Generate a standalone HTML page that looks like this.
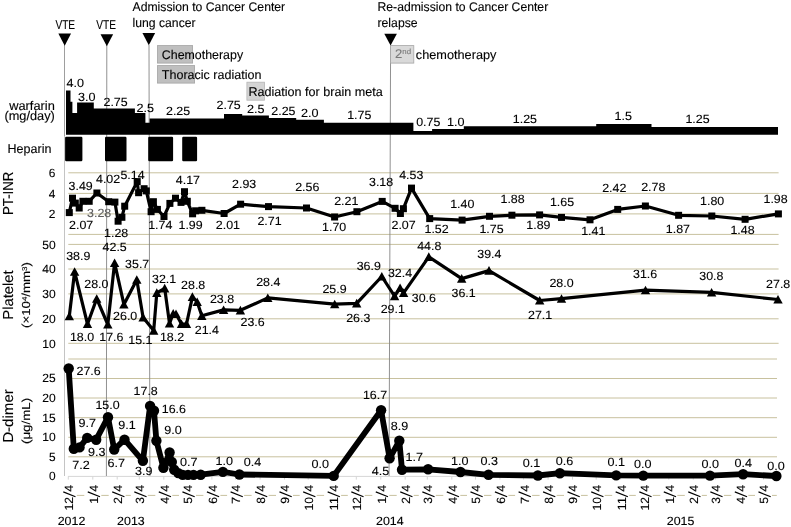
<!DOCTYPE html>
<html><head><meta charset="utf-8"><title>Clinical course</title>
<style>
html,body{margin:0;padding:0;background:#fff;}
body{width:791px;height:527px;overflow:hidden;}
svg{display:block;font-family:"Liberation Sans",sans-serif;will-change:transform;text-rendering:geometricPrecision;}
.g{stroke:#c8c19e;stroke-width:1;}
text{stroke:#000;stroke-width:0.12px;}
text[fill="#5e5e5e"]{stroke:#5e5e5e;}
text[fill="#7a7a7a"]{stroke:#7a7a7a;}
</style></head><body>
<svg width="791" height="527" viewBox="0 0 791 527">
<rect width="791" height="527" fill="#fff"/>
<line x1="68.3" y1="172.8" x2="778.6" y2="172.8" class="g"/>
<line x1="68.3" y1="193.4" x2="778.6" y2="193.4" class="g"/>
<line x1="68.3" y1="213.9" x2="778.6" y2="213.9" class="g"/>
<line x1="68.3" y1="234.4" x2="778.6" y2="234.4" class="g"/>
<line x1="68.3" y1="244.4" x2="778.6" y2="244.4" class="g"/>
<line x1="68.3" y1="269" x2="778.6" y2="269" class="g"/>
<line x1="68.3" y1="293.9" x2="778.6" y2="293.9" class="g"/>
<line x1="68.3" y1="318.8" x2="778.6" y2="318.8" class="g"/>
<line x1="68.3" y1="343.3" x2="778.6" y2="343.3" class="g"/>
<line x1="68.3" y1="359" x2="777" y2="359" class="g"/>
<line x1="68.3" y1="378.5" x2="777" y2="378.5" class="g"/>
<line x1="68.3" y1="398" x2="777" y2="398" class="g"/>
<line x1="68.3" y1="417.7" x2="777" y2="417.7" class="g"/>
<line x1="68.3" y1="437.3" x2="777" y2="437.3" class="g"/>
<line x1="68.3" y1="456.8" x2="777" y2="456.8" class="g"/>
<line x1="68" y1="476.4" x2="777" y2="476.4" stroke="#d6d6d6" stroke-width="1"/>
<line x1="68.3" y1="476.4" x2="68.3" y2="479.6" stroke="#d6d6d6" stroke-width="1"/>
<line x1="92.8" y1="476.4" x2="92.8" y2="479.6" stroke="#d6d6d6" stroke-width="1"/>
<line x1="117.2" y1="476.4" x2="117.2" y2="479.6" stroke="#d6d6d6" stroke-width="1"/>
<line x1="139.3" y1="476.4" x2="139.3" y2="479.6" stroke="#d6d6d6" stroke-width="1"/>
<line x1="163.8" y1="476.4" x2="163.8" y2="479.6" stroke="#d6d6d6" stroke-width="1"/>
<line x1="187.5" y1="476.4" x2="187.5" y2="479.6" stroke="#d6d6d6" stroke-width="1"/>
<line x1="211.9" y1="476.4" x2="211.9" y2="479.6" stroke="#d6d6d6" stroke-width="1"/>
<line x1="235.6" y1="476.4" x2="235.6" y2="479.6" stroke="#d6d6d6" stroke-width="1"/>
<line x1="260.1" y1="476.4" x2="260.1" y2="479.6" stroke="#d6d6d6" stroke-width="1"/>
<line x1="284.5" y1="476.4" x2="284.5" y2="479.6" stroke="#d6d6d6" stroke-width="1"/>
<line x1="308.2" y1="476.4" x2="308.2" y2="479.6" stroke="#d6d6d6" stroke-width="1"/>
<line x1="332.6" y1="476.4" x2="332.6" y2="479.6" stroke="#d6d6d6" stroke-width="1"/>
<line x1="356.3" y1="476.4" x2="356.3" y2="479.6" stroke="#d6d6d6" stroke-width="1"/>
<line x1="380.8" y1="476.4" x2="380.8" y2="479.6" stroke="#d6d6d6" stroke-width="1"/>
<line x1="405.2" y1="476.4" x2="405.2" y2="479.6" stroke="#d6d6d6" stroke-width="1"/>
<line x1="427.3" y1="476.4" x2="427.3" y2="479.6" stroke="#d6d6d6" stroke-width="1"/>
<line x1="451.8" y1="476.4" x2="451.8" y2="479.6" stroke="#d6d6d6" stroke-width="1"/>
<line x1="475.5" y1="476.4" x2="475.5" y2="479.6" stroke="#d6d6d6" stroke-width="1"/>
<line x1="499.9" y1="476.4" x2="499.9" y2="479.6" stroke="#d6d6d6" stroke-width="1"/>
<line x1="523.6" y1="476.4" x2="523.6" y2="479.6" stroke="#d6d6d6" stroke-width="1"/>
<line x1="548.1" y1="476.4" x2="548.1" y2="479.6" stroke="#d6d6d6" stroke-width="1"/>
<line x1="572.5" y1="476.4" x2="572.5" y2="479.6" stroke="#d6d6d6" stroke-width="1"/>
<line x1="596.2" y1="476.4" x2="596.2" y2="479.6" stroke="#d6d6d6" stroke-width="1"/>
<line x1="620.7" y1="476.4" x2="620.7" y2="479.6" stroke="#d6d6d6" stroke-width="1"/>
<line x1="644.3" y1="476.4" x2="644.3" y2="479.6" stroke="#d6d6d6" stroke-width="1"/>
<line x1="668.8" y1="476.4" x2="668.8" y2="479.6" stroke="#d6d6d6" stroke-width="1"/>
<line x1="693.3" y1="476.4" x2="693.3" y2="479.6" stroke="#d6d6d6" stroke-width="1"/>
<line x1="715.4" y1="476.4" x2="715.4" y2="479.6" stroke="#d6d6d6" stroke-width="1"/>
<line x1="739.8" y1="476.4" x2="739.8" y2="479.6" stroke="#d6d6d6" stroke-width="1"/>
<line x1="763.5" y1="476.4" x2="763.5" y2="479.6" stroke="#d6d6d6" stroke-width="1"/>
<line x1="76.8" y1="495.4" x2="84.3" y2="495.4" stroke="#c8c19e" stroke-width="1"/>
<line x1="101.3" y1="495.4" x2="108.7" y2="495.4" stroke="#c8c19e" stroke-width="1"/>
<line x1="125.7" y1="495.4" x2="130.8" y2="495.4" stroke="#c8c19e" stroke-width="1"/>
<line x1="147.8" y1="495.4" x2="155.3" y2="495.4" stroke="#c8c19e" stroke-width="1"/>
<line x1="172.3" y1="495.4" x2="179.0" y2="495.4" stroke="#c8c19e" stroke-width="1"/>
<line x1="196.0" y1="495.4" x2="203.4" y2="495.4" stroke="#c8c19e" stroke-width="1"/>
<line x1="220.4" y1="495.4" x2="227.1" y2="495.4" stroke="#c8c19e" stroke-width="1"/>
<line x1="244.1" y1="495.4" x2="251.6" y2="495.4" stroke="#c8c19e" stroke-width="1"/>
<line x1="268.6" y1="495.4" x2="276.0" y2="495.4" stroke="#c8c19e" stroke-width="1"/>
<line x1="293.0" y1="495.4" x2="299.7" y2="495.4" stroke="#c8c19e" stroke-width="1"/>
<line x1="316.7" y1="495.4" x2="324.1" y2="495.4" stroke="#c8c19e" stroke-width="1"/>
<line x1="341.1" y1="495.4" x2="347.8" y2="495.4" stroke="#c8c19e" stroke-width="1"/>
<line x1="364.8" y1="495.4" x2="372.3" y2="495.4" stroke="#c8c19e" stroke-width="1"/>
<line x1="389.3" y1="495.4" x2="396.7" y2="495.4" stroke="#c8c19e" stroke-width="1"/>
<line x1="413.7" y1="495.4" x2="418.8" y2="495.4" stroke="#c8c19e" stroke-width="1"/>
<line x1="435.8" y1="495.4" x2="443.3" y2="495.4" stroke="#c8c19e" stroke-width="1"/>
<line x1="460.3" y1="495.4" x2="467.0" y2="495.4" stroke="#c8c19e" stroke-width="1"/>
<line x1="484.0" y1="495.4" x2="491.4" y2="495.4" stroke="#c8c19e" stroke-width="1"/>
<line x1="508.4" y1="495.4" x2="515.1" y2="495.4" stroke="#c8c19e" stroke-width="1"/>
<line x1="532.1" y1="495.4" x2="539.6" y2="495.4" stroke="#c8c19e" stroke-width="1"/>
<line x1="556.6" y1="495.4" x2="564.0" y2="495.4" stroke="#c8c19e" stroke-width="1"/>
<line x1="581.0" y1="495.4" x2="587.7" y2="495.4" stroke="#c8c19e" stroke-width="1"/>
<line x1="604.7" y1="495.4" x2="612.2" y2="495.4" stroke="#c8c19e" stroke-width="1"/>
<line x1="629.2" y1="495.4" x2="635.8" y2="495.4" stroke="#c8c19e" stroke-width="1"/>
<line x1="652.8" y1="495.4" x2="660.3" y2="495.4" stroke="#c8c19e" stroke-width="1"/>
<line x1="677.3" y1="495.4" x2="684.8" y2="495.4" stroke="#c8c19e" stroke-width="1"/>
<line x1="701.8" y1="495.4" x2="706.9" y2="495.4" stroke="#c8c19e" stroke-width="1"/>
<line x1="723.9" y1="495.4" x2="731.3" y2="495.4" stroke="#c8c19e" stroke-width="1"/>
<line x1="748.3" y1="495.4" x2="755.0" y2="495.4" stroke="#c8c19e" stroke-width="1"/>
<line x1="772.0" y1="495.4" x2="776.8" y2="495.4" stroke="#c8c19e" stroke-width="1"/>
<g transform="translate(73.20,510.43) rotate(-90)" font-size="11.9"><text x="0" y="0" textLength="13.52" lengthAdjust="spacingAndGlyphs">12</text><line x1="13.62" y1="2.3" x2="18.57" y2="-9.9" stroke="#000" stroke-width="1.15"/><text x="18.67" y="0" textLength="6.76" lengthAdjust="spacingAndGlyphs">4</text></g>
<g transform="translate(97.66,503.67) rotate(-90)" font-size="11.9"><text x="0" y="0" textLength="6.76" lengthAdjust="spacingAndGlyphs">1</text><line x1="6.86" y1="2.3" x2="11.81" y2="-9.9" stroke="#000" stroke-width="1.15"/><text x="11.91" y="0" textLength="6.76" lengthAdjust="spacingAndGlyphs">4</text></g>
<g transform="translate(122.12,503.67) rotate(-90)" font-size="11.9"><text x="0" y="0" textLength="6.76" lengthAdjust="spacingAndGlyphs">2</text><line x1="6.86" y1="2.3" x2="11.81" y2="-9.9" stroke="#000" stroke-width="1.15"/><text x="11.91" y="0" textLength="6.76" lengthAdjust="spacingAndGlyphs">4</text></g>
<g transform="translate(144.22,503.67) rotate(-90)" font-size="11.9"><text x="0" y="0" textLength="6.76" lengthAdjust="spacingAndGlyphs">3</text><line x1="6.86" y1="2.3" x2="11.81" y2="-9.9" stroke="#000" stroke-width="1.15"/><text x="11.91" y="0" textLength="6.76" lengthAdjust="spacingAndGlyphs">4</text></g>
<g transform="translate(168.68,503.67) rotate(-90)" font-size="11.9"><text x="0" y="0" textLength="6.76" lengthAdjust="spacingAndGlyphs">4</text><line x1="6.86" y1="2.3" x2="11.81" y2="-9.9" stroke="#000" stroke-width="1.15"/><text x="11.91" y="0" textLength="6.76" lengthAdjust="spacingAndGlyphs">4</text></g>
<g transform="translate(192.35,503.67) rotate(-90)" font-size="11.9"><text x="0" y="0" textLength="6.76" lengthAdjust="spacingAndGlyphs">5</text><line x1="6.86" y1="2.3" x2="11.81" y2="-9.9" stroke="#000" stroke-width="1.15"/><text x="11.91" y="0" textLength="6.76" lengthAdjust="spacingAndGlyphs">4</text></g>
<g transform="translate(216.82,503.67) rotate(-90)" font-size="11.9"><text x="0" y="0" textLength="6.76" lengthAdjust="spacingAndGlyphs">6</text><line x1="6.86" y1="2.3" x2="11.81" y2="-9.9" stroke="#000" stroke-width="1.15"/><text x="11.91" y="0" textLength="6.76" lengthAdjust="spacingAndGlyphs">4</text></g>
<g transform="translate(240.49,503.67) rotate(-90)" font-size="11.9"><text x="0" y="0" textLength="6.76" lengthAdjust="spacingAndGlyphs">7</text><line x1="6.86" y1="2.3" x2="11.81" y2="-9.9" stroke="#000" stroke-width="1.15"/><text x="11.91" y="0" textLength="6.76" lengthAdjust="spacingAndGlyphs">4</text></g>
<g transform="translate(264.95,503.67) rotate(-90)" font-size="11.9"><text x="0" y="0" textLength="6.76" lengthAdjust="spacingAndGlyphs">8</text><line x1="6.86" y1="2.3" x2="11.81" y2="-9.9" stroke="#000" stroke-width="1.15"/><text x="11.91" y="0" textLength="6.76" lengthAdjust="spacingAndGlyphs">4</text></g>
<g transform="translate(289.41,503.67) rotate(-90)" font-size="11.9"><text x="0" y="0" textLength="6.76" lengthAdjust="spacingAndGlyphs">9</text><line x1="6.86" y1="2.3" x2="11.81" y2="-9.9" stroke="#000" stroke-width="1.15"/><text x="11.91" y="0" textLength="6.76" lengthAdjust="spacingAndGlyphs">4</text></g>
<g transform="translate(313.09,510.43) rotate(-90)" font-size="11.9"><text x="0" y="0" textLength="13.52" lengthAdjust="spacingAndGlyphs">10</text><line x1="13.62" y1="2.3" x2="18.57" y2="-9.9" stroke="#000" stroke-width="1.15"/><text x="18.67" y="0" textLength="6.76" lengthAdjust="spacingAndGlyphs">4</text></g>
<g transform="translate(337.55,510.43) rotate(-90)" font-size="11.9"><text x="0" y="0" textLength="13.52" lengthAdjust="spacingAndGlyphs">11</text><line x1="13.62" y1="2.3" x2="18.57" y2="-9.9" stroke="#000" stroke-width="1.15"/><text x="18.67" y="0" textLength="6.76" lengthAdjust="spacingAndGlyphs">4</text></g>
<g transform="translate(361.22,510.43) rotate(-90)" font-size="11.9"><text x="0" y="0" textLength="13.52" lengthAdjust="spacingAndGlyphs">12</text><line x1="13.62" y1="2.3" x2="18.57" y2="-9.9" stroke="#000" stroke-width="1.15"/><text x="18.67" y="0" textLength="6.76" lengthAdjust="spacingAndGlyphs">4</text></g>
<g transform="translate(385.68,503.67) rotate(-90)" font-size="11.9"><text x="0" y="0" textLength="6.76" lengthAdjust="spacingAndGlyphs">1</text><line x1="6.86" y1="2.3" x2="11.81" y2="-9.9" stroke="#000" stroke-width="1.15"/><text x="11.91" y="0" textLength="6.76" lengthAdjust="spacingAndGlyphs">4</text></g>
<g transform="translate(410.15,503.67) rotate(-90)" font-size="11.9"><text x="0" y="0" textLength="6.76" lengthAdjust="spacingAndGlyphs">2</text><line x1="6.86" y1="2.3" x2="11.81" y2="-9.9" stroke="#000" stroke-width="1.15"/><text x="11.91" y="0" textLength="6.76" lengthAdjust="spacingAndGlyphs">4</text></g>
<g transform="translate(432.24,503.67) rotate(-90)" font-size="11.9"><text x="0" y="0" textLength="6.76" lengthAdjust="spacingAndGlyphs">3</text><line x1="6.86" y1="2.3" x2="11.81" y2="-9.9" stroke="#000" stroke-width="1.15"/><text x="11.91" y="0" textLength="6.76" lengthAdjust="spacingAndGlyphs">4</text></g>
<g transform="translate(456.70,503.67) rotate(-90)" font-size="11.9"><text x="0" y="0" textLength="6.76" lengthAdjust="spacingAndGlyphs">4</text><line x1="6.86" y1="2.3" x2="11.81" y2="-9.9" stroke="#000" stroke-width="1.15"/><text x="11.91" y="0" textLength="6.76" lengthAdjust="spacingAndGlyphs">4</text></g>
<g transform="translate(480.38,503.67) rotate(-90)" font-size="11.9"><text x="0" y="0" textLength="6.76" lengthAdjust="spacingAndGlyphs">5</text><line x1="6.86" y1="2.3" x2="11.81" y2="-9.9" stroke="#000" stroke-width="1.15"/><text x="11.91" y="0" textLength="6.76" lengthAdjust="spacingAndGlyphs">4</text></g>
<g transform="translate(504.84,503.67) rotate(-90)" font-size="11.9"><text x="0" y="0" textLength="6.76" lengthAdjust="spacingAndGlyphs">6</text><line x1="6.86" y1="2.3" x2="11.81" y2="-9.9" stroke="#000" stroke-width="1.15"/><text x="11.91" y="0" textLength="6.76" lengthAdjust="spacingAndGlyphs">4</text></g>
<g transform="translate(528.51,503.67) rotate(-90)" font-size="11.9"><text x="0" y="0" textLength="6.76" lengthAdjust="spacingAndGlyphs">7</text><line x1="6.86" y1="2.3" x2="11.81" y2="-9.9" stroke="#000" stroke-width="1.15"/><text x="11.91" y="0" textLength="6.76" lengthAdjust="spacingAndGlyphs">4</text></g>
<g transform="translate(552.97,503.67) rotate(-90)" font-size="11.9"><text x="0" y="0" textLength="6.76" lengthAdjust="spacingAndGlyphs">8</text><line x1="6.86" y1="2.3" x2="11.81" y2="-9.9" stroke="#000" stroke-width="1.15"/><text x="11.91" y="0" textLength="6.76" lengthAdjust="spacingAndGlyphs">4</text></g>
<g transform="translate(577.43,503.67) rotate(-90)" font-size="11.9"><text x="0" y="0" textLength="6.76" lengthAdjust="spacingAndGlyphs">9</text><line x1="6.86" y1="2.3" x2="11.81" y2="-9.9" stroke="#000" stroke-width="1.15"/><text x="11.91" y="0" textLength="6.76" lengthAdjust="spacingAndGlyphs">4</text></g>
<g transform="translate(601.11,510.43) rotate(-90)" font-size="11.9"><text x="0" y="0" textLength="13.52" lengthAdjust="spacingAndGlyphs">10</text><line x1="13.62" y1="2.3" x2="18.57" y2="-9.9" stroke="#000" stroke-width="1.15"/><text x="18.67" y="0" textLength="6.76" lengthAdjust="spacingAndGlyphs">4</text></g>
<g transform="translate(625.57,510.43) rotate(-90)" font-size="11.9"><text x="0" y="0" textLength="13.52" lengthAdjust="spacingAndGlyphs">11</text><line x1="13.62" y1="2.3" x2="18.57" y2="-9.9" stroke="#000" stroke-width="1.15"/><text x="18.67" y="0" textLength="6.76" lengthAdjust="spacingAndGlyphs">4</text></g>
<g transform="translate(649.24,510.43) rotate(-90)" font-size="11.9"><text x="0" y="0" textLength="13.52" lengthAdjust="spacingAndGlyphs">12</text><line x1="13.62" y1="2.3" x2="18.57" y2="-9.9" stroke="#000" stroke-width="1.15"/><text x="18.67" y="0" textLength="6.76" lengthAdjust="spacingAndGlyphs">4</text></g>
<g transform="translate(673.71,503.67) rotate(-90)" font-size="11.9"><text x="0" y="0" textLength="6.76" lengthAdjust="spacingAndGlyphs">1</text><line x1="6.86" y1="2.3" x2="11.81" y2="-9.9" stroke="#000" stroke-width="1.15"/><text x="11.91" y="0" textLength="6.76" lengthAdjust="spacingAndGlyphs">4</text></g>
<g transform="translate(698.17,503.67) rotate(-90)" font-size="11.9"><text x="0" y="0" textLength="6.76" lengthAdjust="spacingAndGlyphs">2</text><line x1="6.86" y1="2.3" x2="11.81" y2="-9.9" stroke="#000" stroke-width="1.15"/><text x="11.91" y="0" textLength="6.76" lengthAdjust="spacingAndGlyphs">4</text></g>
<g transform="translate(720.26,503.67) rotate(-90)" font-size="11.9"><text x="0" y="0" textLength="6.76" lengthAdjust="spacingAndGlyphs">3</text><line x1="6.86" y1="2.3" x2="11.81" y2="-9.9" stroke="#000" stroke-width="1.15"/><text x="11.91" y="0" textLength="6.76" lengthAdjust="spacingAndGlyphs">4</text></g>
<g transform="translate(744.72,503.67) rotate(-90)" font-size="11.9"><text x="0" y="0" textLength="6.76" lengthAdjust="spacingAndGlyphs">4</text><line x1="6.86" y1="2.3" x2="11.81" y2="-9.9" stroke="#000" stroke-width="1.15"/><text x="11.91" y="0" textLength="6.76" lengthAdjust="spacingAndGlyphs">4</text></g>
<g transform="translate(768.40,503.67) rotate(-90)" font-size="11.9"><text x="0" y="0" textLength="6.76" lengthAdjust="spacingAndGlyphs">5</text><line x1="6.86" y1="2.3" x2="11.81" y2="-9.9" stroke="#000" stroke-width="1.15"/><text x="11.91" y="0" textLength="6.76" lengthAdjust="spacingAndGlyphs">4</text></g>
<text x="57.7" y="525.3" font-size="11.9" text-anchor="start" fill="#000" textLength="27.6" lengthAdjust="spacingAndGlyphs">2012</text>
<text x="117.1" y="525.3" font-size="11.9" text-anchor="start" fill="#000" textLength="27.6" lengthAdjust="spacingAndGlyphs">2013</text>
<text x="376.0" y="525.3" font-size="11.9" text-anchor="start" fill="#000" textLength="27.6" lengthAdjust="spacingAndGlyphs">2014</text>
<text x="666.8" y="525.3" font-size="11.9" text-anchor="start" fill="#000" textLength="27.6" lengthAdjust="spacingAndGlyphs">2015</text>
<line x1="106.8" y1="45" x2="106.4" y2="476" stroke="#858585" stroke-width="0.9"/>
<line x1="149.0" y1="45" x2="149.9" y2="476" stroke="#858585" stroke-width="0.9"/>
<line x1="390.6" y1="45" x2="389.05" y2="476" stroke="#858585" stroke-width="0.9"/>
<line x1="64.5" y1="44" x2="64.5" y2="136" stroke="#858585" stroke-width="0.8"/>
<line x1="64.5" y1="136" x2="64.5" y2="476" stroke="#bdbdbd" stroke-width="0.9"/>
<path d="M66,134.7 L66,90.4 L70.5,90.4 L70.5,101.7 L72.4,101.7 L72.4,112.9 L77.1,112.9 L77.1,102.5 L93.8,102.5 L93.8,108.4 L134.9,108.4 L134.9,112.9 L145.4,112.9 L145.4,122.8 L149.6,122.8 L149.6,118.4 L224,118.4 L224,114.1 L242.2,114.1 L242.2,115.6 L268.9,115.6 L268.9,118.1 L296.2,118.1 L296.2,119.8 L323.9,119.8 L323.9,122.8 L413.4,122.8 L413.4,131 L432.1,131 L432.1,129.1 L463.8,129.1 L463.8,126.3 L596.2,126.3 L596.2,124.1 L651.5,124.1 L651.5,127 L778,127 L778,134.7 Z" fill="#000"/>
<rect x="65.1" y="136.8" width="17.3" height="24.5" rx="1.2" fill="#000"/>
<rect x="105" y="136.8" width="21.5" height="24.5" rx="1.2" fill="#000"/>
<rect x="148.2" y="136.8" width="24.9" height="24.5" rx="1.2" fill="#000"/>
<rect x="182.2" y="136.8" width="14.9" height="24.5" rx="1.2" fill="#000"/>
<text x="66.6" y="87" font-size="11.9" text-anchor="start" fill="#000" textLength="17.5" lengthAdjust="spacingAndGlyphs">4.0</text>
<text x="78.0" y="100.9" font-size="11.9" text-anchor="start" fill="#000" textLength="17.5" lengthAdjust="spacingAndGlyphs">3.0</text>
<text x="103.5" y="105.8" font-size="11.9" text-anchor="start" fill="#000" textLength="24.2" lengthAdjust="spacingAndGlyphs">2.75</text>
<text x="136.6" y="112.2" font-size="11.9" text-anchor="start" fill="#000" textLength="17.5" lengthAdjust="spacingAndGlyphs">2.5</text>
<text x="166.0" y="114.7" font-size="11.9" text-anchor="start" fill="#000" textLength="24.2" lengthAdjust="spacingAndGlyphs">2.25</text>
<text x="216.6" y="109.3" font-size="11.9" text-anchor="start" fill="#000" textLength="24.2" lengthAdjust="spacingAndGlyphs">2.75</text>
<text x="246.9" y="113.3" font-size="11.9" text-anchor="start" fill="#000" textLength="17.5" lengthAdjust="spacingAndGlyphs">2.5</text>
<text x="271.3" y="114.6" font-size="11.9" text-anchor="start" fill="#000" textLength="24.2" lengthAdjust="spacingAndGlyphs">2.25</text>
<text x="301.0" y="117" font-size="11.9" text-anchor="start" fill="#000" textLength="17.5" lengthAdjust="spacingAndGlyphs">2.0</text>
<text x="347.20000000000005" y="119.2" font-size="11.9" text-anchor="start" fill="#000" textLength="24.2" lengthAdjust="spacingAndGlyphs">1.75</text>
<text x="416.20000000000005" y="125.7" font-size="11.9" text-anchor="start" fill="#000" textLength="24.2" lengthAdjust="spacingAndGlyphs">0.75</text>
<text x="446.90000000000003" y="125.7" font-size="11.9" text-anchor="start" fill="#000" textLength="17.5" lengthAdjust="spacingAndGlyphs">1.0</text>
<text x="512.8000000000001" y="122.9" font-size="11.9" text-anchor="start" fill="#000" textLength="24.2" lengthAdjust="spacingAndGlyphs">1.25</text>
<text x="614.6" y="120.2" font-size="11.9" text-anchor="start" fill="#000" textLength="17.5" lengthAdjust="spacingAndGlyphs">1.5</text>
<text x="685.4" y="122.6" font-size="11.9" text-anchor="start" fill="#000" textLength="24.2" lengthAdjust="spacingAndGlyphs">1.25</text>
<path d="M58.35,33.4 L71.05,33.4 L64.7,45.7 Z" fill="#000"/>
<path d="M100.55,34.2 L113.14999999999999,34.2 L106.85,46.3 Z" fill="#000"/>
<path d="M142.45000000000002,33.0 L155.15,33.0 L148.8,45.3 Z" fill="#000"/>
<path d="M384.3,33.8 L396.90000000000003,33.8 L390.6,45.6 Z" fill="#000"/>
<text x="55.4" y="28.6" font-size="12.6" text-anchor="start" fill="#000" textLength="19.7" lengthAdjust="spacingAndGlyphs">VTE</text>
<text x="96.3" y="28.6" font-size="12.6" text-anchor="start" fill="#000" textLength="19.7" lengthAdjust="spacingAndGlyphs">VTE</text>
<text x="132.5" y="11.0" font-size="12.6" text-anchor="start" fill="#000" textLength="152.7" lengthAdjust="spacingAndGlyphs">Admission to Cancer Center</text>
<text x="132.5" y="27.0" font-size="12.6" text-anchor="start" fill="#000" textLength="63.1" lengthAdjust="spacingAndGlyphs">lung cancer</text>
<text x="377.5" y="11.0" font-size="12.6" text-anchor="start" fill="#000" textLength="170.7" lengthAdjust="spacingAndGlyphs">Re-admission to Cancer Center</text>
<text x="377.5" y="27.0" font-size="12.6" text-anchor="start" fill="#000" textLength="40.1" lengthAdjust="spacingAndGlyphs">relapse</text>
<rect x="157.5" y="45.6" width="35.1" height="17.5" fill="#bfbfbf" stroke="#a3a3a3" stroke-width="0.8"/>
<rect x="157.5" y="65.6" width="37.1" height="17.5" fill="#bfbfbf" stroke="#a3a3a3" stroke-width="0.8"/>
<rect x="246.9" y="82.2" width="17.6" height="18" fill="#d4d4d4" stroke="#b5b5b5" stroke-width="0.8"/>
<rect x="390.6" y="45.6" width="23.2" height="17.5" fill="#d9d9d9" stroke="#a6a6a6" stroke-width="0.8"/>
<text x="161.8" y="58.7" font-size="12.6" text-anchor="start" fill="#000" textLength="81.3" lengthAdjust="spacingAndGlyphs">Chemotherapy</text>
<text x="161.8" y="78.5" font-size="12.6" text-anchor="start" fill="#000" textLength="99.6" lengthAdjust="spacingAndGlyphs">Thoracic radiation</text>
<text x="248.4" y="95.9" font-size="12.6" text-anchor="start" fill="#000" textLength="134.3" lengthAdjust="spacingAndGlyphs">Radiation for brain meta</text>
<text x="395" y="58.3" font-size="12.6" fill="#7a7a7a" textLength="16" lengthAdjust="spacingAndGlyphs">2<tspan font-size="7.5" dy="-4">nd</tspan></text>
<text x="415.8" y="58.7" font-size="12.6" text-anchor="start" fill="#000" textLength="80.6" lengthAdjust="spacingAndGlyphs">chemotherapy</text>
<text x="54.8" y="109.7" font-size="12.6" text-anchor="end" fill="#000" textLength="45.6" lengthAdjust="spacingAndGlyphs">warfarin</text>
<text x="54.8" y="120.4" font-size="12.6" text-anchor="end" fill="#000" textLength="50.3" lengthAdjust="spacingAndGlyphs">(mg/day)</text>
<text x="7.6" y="153.2" font-size="12.6" text-anchor="start" fill="#000" textLength="43.8" lengthAdjust="spacingAndGlyphs">Heparin</text>
<text transform="translate(13,193.3) rotate(-90)" font-size="14.5" text-anchor="middle" fill="#000" textLength="43.5" lengthAdjust="spacingAndGlyphs">PT-INR</text>
<text transform="translate(12.5,295) rotate(-90)" font-size="14.5" text-anchor="middle" fill="#000" textLength="49.5" lengthAdjust="spacingAndGlyphs">Platelet</text>
<text transform="translate(30.3,295) rotate(-90)" font-size="11.6" text-anchor="middle" textLength="66" lengthAdjust="spacingAndGlyphs">(×10<tspan font-size="7" dy="-3.5">4</tspan><tspan dy="3.5">/mm</tspan><tspan font-size="7" dy="-3.5">3</tspan><tspan dy="3.5">)</tspan></text>
<text transform="translate(12.6,416) rotate(-90)" font-size="14.5" text-anchor="middle" fill="#000" textLength="53.6" lengthAdjust="spacingAndGlyphs">D-dimer</text>
<text transform="translate(30,420.9) rotate(-90)" font-size="11.6" text-anchor="middle" fill="#000" textLength="46.3" lengthAdjust="spacingAndGlyphs">(μg/mL)</text>
<text x="55.4" y="176.9" font-size="11.9" text-anchor="end" fill="#000">6</text>
<text x="55.4" y="197.5" font-size="11.9" text-anchor="end" fill="#000">4</text>
<text x="55.4" y="218.0" font-size="11.9" text-anchor="end" fill="#000">2</text>
<text x="55.6" y="248.70000000000002" font-size="11.9" text-anchor="end" fill="#000" textLength="13.4" lengthAdjust="spacingAndGlyphs">50</text>
<text x="55.6" y="273.2" font-size="11.9" text-anchor="end" fill="#000" textLength="13.4" lengthAdjust="spacingAndGlyphs">40</text>
<text x="55.6" y="298.2" font-size="11.9" text-anchor="end" fill="#000" textLength="13.4" lengthAdjust="spacingAndGlyphs">30</text>
<text x="55.6" y="322.9" font-size="11.9" text-anchor="end" fill="#000" textLength="13.4" lengthAdjust="spacingAndGlyphs">20</text>
<text x="55.6" y="347.5" font-size="11.9" text-anchor="end" fill="#000" textLength="13.4" lengthAdjust="spacingAndGlyphs">10</text>
<text x="55.6" y="382.3" font-size="11.9" text-anchor="end" fill="#000" textLength="13.4" lengthAdjust="spacingAndGlyphs">25</text>
<text x="55.6" y="402.0" font-size="11.9" text-anchor="end" fill="#000" textLength="13.4" lengthAdjust="spacingAndGlyphs">20</text>
<text x="55.6" y="421.8" font-size="11.9" text-anchor="end" fill="#000" textLength="13.4" lengthAdjust="spacingAndGlyphs">15</text>
<text x="55.6" y="441.3" font-size="11.9" text-anchor="end" fill="#000" textLength="13.4" lengthAdjust="spacingAndGlyphs">10</text>
<text x="55.6" y="460.70000000000005" font-size="11.9" text-anchor="end" fill="#000">5</text>
<text x="55.6" y="479.90000000000003" font-size="11.9" text-anchor="end" fill="#000">0</text>
<polyline fill="none" stroke="#000" stroke-width="3.2" stroke-linejoin="round" points="69.3,212.6 72.5,198.2 75.3,203.1 79.2,208 82.9,201.3 89.2,201.3 96.9,193 108.7,201.7 114.9,202.1 118.1,221.2 121.9,217.3 124.7,206.2 137.2,181.6 138.6,192.7 144.1,188.7 146.3,190.9 151.1,211.7 153.4,201.7 157.4,209.4 164,216.5 169.9,203.4 175.5,198.2 181,202.4 184.5,191.7 187.3,201.3 192.6,213.8 195.6,210.8 201.9,210.3 224.1,213.5 240.6,204.2 268.5,206.6 306.5,208 334.6,217 356.9,211.7 382.2,201.4 395.1,208.3 400.4,213.5 403.4,208.7 411.5,188.1 429.7,218.6 462.1,220.1 489.5,216.3 511.9,215.2 539.6,214.9 561.5,217.4 590,219.8 617.7,209.4 645.4,206 678.6,215.3 711.8,216 745.1,219.3 778.4,213.9"/>
<rect x="65.8" y="209.1" width="7" height="7" fill="#000"/>
<rect x="69.0" y="194.7" width="7" height="7" fill="#000"/>
<rect x="71.8" y="199.6" width="7" height="7" fill="#000"/>
<rect x="75.7" y="204.5" width="7" height="7" fill="#000"/>
<rect x="79.4" y="197.8" width="7" height="7" fill="#000"/>
<rect x="85.7" y="197.8" width="7" height="7" fill="#000"/>
<rect x="93.4" y="189.5" width="7" height="7" fill="#000"/>
<rect x="105.2" y="198.2" width="7" height="7" fill="#000"/>
<rect x="111.4" y="198.6" width="7" height="7" fill="#000"/>
<rect x="114.6" y="217.7" width="7" height="7" fill="#000"/>
<rect x="118.4" y="213.8" width="7" height="7" fill="#000"/>
<rect x="121.2" y="202.7" width="7" height="7" fill="#000"/>
<rect x="133.7" y="178.1" width="7" height="7" fill="#000"/>
<rect x="135.1" y="189.2" width="7" height="7" fill="#000"/>
<rect x="140.6" y="185.2" width="7" height="7" fill="#000"/>
<rect x="142.8" y="187.4" width="7" height="7" fill="#000"/>
<rect x="147.6" y="208.2" width="7" height="7" fill="#000"/>
<rect x="149.9" y="198.2" width="7" height="7" fill="#000"/>
<rect x="153.9" y="205.9" width="7" height="7" fill="#000"/>
<rect x="160.5" y="213.0" width="7" height="7" fill="#000"/>
<rect x="166.4" y="199.9" width="7" height="7" fill="#000"/>
<rect x="172.0" y="194.7" width="7" height="7" fill="#000"/>
<rect x="177.5" y="198.9" width="7" height="7" fill="#000"/>
<rect x="181.0" y="188.2" width="7" height="7" fill="#000"/>
<rect x="183.8" y="197.8" width="7" height="7" fill="#000"/>
<rect x="189.1" y="210.3" width="7" height="7" fill="#000"/>
<rect x="192.1" y="207.3" width="7" height="7" fill="#000"/>
<rect x="198.4" y="206.8" width="7" height="7" fill="#000"/>
<rect x="220.6" y="210.0" width="7" height="7" fill="#000"/>
<rect x="237.1" y="200.7" width="7" height="7" fill="#000"/>
<rect x="265.0" y="203.1" width="7" height="7" fill="#000"/>
<rect x="303.0" y="204.5" width="7" height="7" fill="#000"/>
<rect x="331.1" y="213.5" width="7" height="7" fill="#000"/>
<rect x="353.4" y="208.2" width="7" height="7" fill="#000"/>
<rect x="378.7" y="197.9" width="7" height="7" fill="#000"/>
<rect x="391.6" y="204.8" width="7" height="7" fill="#000"/>
<rect x="396.9" y="210.0" width="7" height="7" fill="#000"/>
<rect x="399.9" y="205.2" width="7" height="7" fill="#000"/>
<rect x="408.0" y="184.6" width="7" height="7" fill="#000"/>
<rect x="426.2" y="215.1" width="7" height="7" fill="#000"/>
<rect x="458.6" y="216.6" width="7" height="7" fill="#000"/>
<rect x="486.0" y="212.8" width="7" height="7" fill="#000"/>
<rect x="508.4" y="211.7" width="7" height="7" fill="#000"/>
<rect x="536.1" y="211.4" width="7" height="7" fill="#000"/>
<rect x="558.0" y="213.9" width="7" height="7" fill="#000"/>
<rect x="586.5" y="216.3" width="7" height="7" fill="#000"/>
<rect x="614.2" y="205.9" width="7" height="7" fill="#000"/>
<rect x="641.9" y="202.5" width="7" height="7" fill="#000"/>
<rect x="675.1" y="211.8" width="7" height="7" fill="#000"/>
<rect x="708.3" y="212.5" width="7" height="7" fill="#000"/>
<rect x="741.6" y="215.8" width="7" height="7" fill="#000"/>
<rect x="774.9" y="210.4" width="7" height="7" fill="#000"/>
<text x="87.1" y="217.3" font-size="11.9" text-anchor="start" fill="#5e5e5e" textLength="24.2" lengthAdjust="spacingAndGlyphs">3.28</text>
<text x="68.6" y="189.5" font-size="11.9" text-anchor="start" fill="#000" textLength="24.2" lengthAdjust="spacingAndGlyphs">3.49</text>
<text x="96.0" y="183" font-size="11.9" text-anchor="start" fill="#000" textLength="24.2" lengthAdjust="spacingAndGlyphs">4.02</text>
<text x="120.39999999999999" y="178.8" font-size="11.9" text-anchor="start" fill="#000" textLength="24.2" lengthAdjust="spacingAndGlyphs">5.14</text>
<text x="69.1" y="229.1" font-size="11.9" text-anchor="start" fill="#000" textLength="24.2" lengthAdjust="spacingAndGlyphs">2.07</text>
<text x="104.1" y="236.5" font-size="11.9" text-anchor="start" fill="#000" textLength="24.2" lengthAdjust="spacingAndGlyphs">1.28</text>
<text x="148.2" y="229.1" font-size="11.9" text-anchor="start" fill="#000" textLength="24.2" lengthAdjust="spacingAndGlyphs">1.74</text>
<text x="175.79999999999998" y="184.3" font-size="11.9" text-anchor="start" fill="#000" textLength="24.2" lengthAdjust="spacingAndGlyphs">4.17</text>
<text x="178.5" y="229.1" font-size="11.9" text-anchor="start" fill="#000" textLength="24.2" lengthAdjust="spacingAndGlyphs">1.99</text>
<text x="215.79999999999998" y="229.1" font-size="11.9" text-anchor="start" fill="#000" textLength="24.2" lengthAdjust="spacingAndGlyphs">2.01</text>
<text x="232.1" y="187.5" font-size="11.9" text-anchor="start" fill="#000" textLength="24.2" lengthAdjust="spacingAndGlyphs">2.93</text>
<text x="295.20000000000005" y="191.3" font-size="11.9" text-anchor="start" fill="#000" textLength="24.2" lengthAdjust="spacingAndGlyphs">2.56</text>
<text x="257.40000000000003" y="225.4" font-size="11.9" text-anchor="start" fill="#000" textLength="24.2" lengthAdjust="spacingAndGlyphs">2.71</text>
<text x="322.1" y="230.9" font-size="11.9" text-anchor="start" fill="#000" textLength="24.2" lengthAdjust="spacingAndGlyphs">1.70</text>
<text x="369.0" y="186.1" font-size="11.9" text-anchor="start" fill="#000" textLength="24.2" lengthAdjust="spacingAndGlyphs">3.18</text>
<text x="399.20000000000005" y="178.5" font-size="11.9" text-anchor="start" fill="#000" textLength="24.2" lengthAdjust="spacingAndGlyphs">4.53</text>
<text x="334.20000000000005" y="204.8" font-size="11.9" text-anchor="start" fill="#000" textLength="24.2" lengthAdjust="spacingAndGlyphs">2.21</text>
<text x="391.5" y="229.1" font-size="11.9" text-anchor="start" fill="#000" textLength="24.2" lengthAdjust="spacingAndGlyphs">2.07</text>
<text x="450.20000000000005" y="208.4" font-size="11.9" text-anchor="start" fill="#000" textLength="24.2" lengthAdjust="spacingAndGlyphs">1.40</text>
<text x="500.5" y="203.4" font-size="11.9" text-anchor="start" fill="#000" textLength="24.2" lengthAdjust="spacingAndGlyphs">1.88</text>
<text x="424.5" y="232.7" font-size="11.9" text-anchor="start" fill="#000" textLength="24.2" lengthAdjust="spacingAndGlyphs">1.52</text>
<text x="479.40000000000003" y="233.4" font-size="11.9" text-anchor="start" fill="#000" textLength="24.2" lengthAdjust="spacingAndGlyphs">1.75</text>
<text x="549.9" y="205.9" font-size="11.9" text-anchor="start" fill="#000" textLength="24.2" lengthAdjust="spacingAndGlyphs">1.65</text>
<text x="526.3000000000001" y="229.1" font-size="11.9" text-anchor="start" fill="#000" textLength="24.2" lengthAdjust="spacingAndGlyphs">1.89</text>
<text x="581.2" y="234.8" font-size="11.9" text-anchor="start" fill="#000" textLength="24.2" lengthAdjust="spacingAndGlyphs">1.41</text>
<text x="602.2" y="191.7" font-size="11.9" text-anchor="start" fill="#000" textLength="24.2" lengthAdjust="spacingAndGlyphs">2.42</text>
<text x="641.2" y="190.5" font-size="11.9" text-anchor="start" fill="#000" textLength="24.2" lengthAdjust="spacingAndGlyphs">2.78</text>
<text x="665.8000000000001" y="233.1" font-size="11.9" text-anchor="start" fill="#000" textLength="24.2" lengthAdjust="spacingAndGlyphs">1.87</text>
<text x="700.1" y="204.8" font-size="11.9" text-anchor="start" fill="#000" textLength="24.2" lengthAdjust="spacingAndGlyphs">1.80</text>
<text x="763.5" y="202.6" font-size="11.9" text-anchor="start" fill="#000" textLength="24.2" lengthAdjust="spacingAndGlyphs">1.98</text>
<text x="730.4" y="234.4" font-size="11.9" text-anchor="start" fill="#000" textLength="24.2" lengthAdjust="spacingAndGlyphs">1.48</text>
<polyline fill="none" stroke="#000" stroke-width="3.2" stroke-linejoin="round" points="69.3,316.2 74.6,271.7 87.5,324 96.7,298.7 107.8,324.5 114.6,262.9 123.9,304.4 136.8,279.7 143.1,317.5 153.7,330.6 156.8,292.8 164.7,288.3 169.5,323.4 173.2,313.6 176,314 181.5,324 186.5,324 192.4,296.8 197.2,302 201.8,315.8 223.6,309.9 240.4,310.3 267.8,297.9 334.7,304.2 356.7,303.3 381.8,276.5 394.6,296.1 400.1,288 403.6,292.8 428.8,256.8 461.7,278.6 489,270.6 539.7,300.5 561.5,298.7 645.5,290.2 711.6,292.4 778,299.5"/>
<path d="M69.3,311.7 L74.0,320.3 L64.6,320.3 Z" fill="#000"/>
<path d="M74.6,267.2 L79.3,275.8 L69.9,275.8 Z" fill="#000"/>
<path d="M87.5,319.5 L92.2,328.1 L82.8,328.1 Z" fill="#000"/>
<path d="M96.7,294.2 L101.4,302.8 L92.0,302.8 Z" fill="#000"/>
<path d="M107.8,320.0 L112.5,328.6 L103.1,328.6 Z" fill="#000"/>
<path d="M114.6,258.4 L119.3,267.0 L109.9,267.0 Z" fill="#000"/>
<path d="M123.9,299.9 L128.6,308.5 L119.2,308.5 Z" fill="#000"/>
<path d="M136.8,275.2 L141.5,283.8 L132.1,283.8 Z" fill="#000"/>
<path d="M143.1,313.0 L147.8,321.6 L138.4,321.6 Z" fill="#000"/>
<path d="M153.7,326.1 L158.4,334.7 L149.0,334.7 Z" fill="#000"/>
<path d="M156.8,288.3 L161.5,296.9 L152.1,296.9 Z" fill="#000"/>
<path d="M164.7,283.8 L169.4,292.4 L160.0,292.4 Z" fill="#000"/>
<path d="M169.5,318.9 L174.2,327.5 L164.8,327.5 Z" fill="#000"/>
<path d="M173.2,309.1 L177.9,317.7 L168.5,317.7 Z" fill="#000"/>
<path d="M176.0,309.5 L180.7,318.1 L171.3,318.1 Z" fill="#000"/>
<path d="M181.5,319.5 L186.2,328.1 L176.8,328.1 Z" fill="#000"/>
<path d="M186.5,319.5 L191.2,328.1 L181.8,328.1 Z" fill="#000"/>
<path d="M192.4,292.3 L197.1,300.9 L187.7,300.9 Z" fill="#000"/>
<path d="M197.2,297.5 L201.9,306.1 L192.5,306.1 Z" fill="#000"/>
<path d="M201.8,311.3 L206.5,319.9 L197.1,319.9 Z" fill="#000"/>
<path d="M223.6,305.4 L228.3,314.0 L218.9,314.0 Z" fill="#000"/>
<path d="M240.4,305.8 L245.1,314.4 L235.7,314.4 Z" fill="#000"/>
<path d="M267.8,293.4 L272.5,302.0 L263.1,302.0 Z" fill="#000"/>
<path d="M334.7,299.7 L339.4,308.3 L330.0,308.3 Z" fill="#000"/>
<path d="M356.7,298.8 L361.4,307.4 L352.0,307.4 Z" fill="#000"/>
<path d="M381.8,272.0 L386.5,280.6 L377.1,280.6 Z" fill="#000"/>
<path d="M394.6,291.6 L399.3,300.2 L389.9,300.2 Z" fill="#000"/>
<path d="M400.1,283.5 L404.8,292.1 L395.4,292.1 Z" fill="#000"/>
<path d="M403.6,288.3 L408.3,296.9 L398.9,296.9 Z" fill="#000"/>
<path d="M428.8,252.3 L433.5,260.9 L424.1,260.9 Z" fill="#000"/>
<path d="M461.7,274.1 L466.4,282.7 L457.0,282.7 Z" fill="#000"/>
<path d="M489.0,266.1 L493.7,274.7 L484.3,274.7 Z" fill="#000"/>
<path d="M539.7,296.0 L544.4,304.6 L535.0,304.6 Z" fill="#000"/>
<path d="M561.5,294.2 L566.2,302.8 L556.8,302.8 Z" fill="#000"/>
<path d="M645.5,285.7 L650.2,294.3 L640.8,294.3 Z" fill="#000"/>
<path d="M711.6,287.9 L716.3,296.5 L706.9,296.5 Z" fill="#000"/>
<path d="M778.0,295.0 L782.7,303.6 L773.3,303.6 Z" fill="#000"/>
<text x="66.19999999999999" y="260.1" font-size="11.9" text-anchor="start" fill="#000" textLength="24.2" lengthAdjust="spacingAndGlyphs">38.9</text>
<text x="84.3" y="287.8" font-size="11.9" text-anchor="start" fill="#000" textLength="24.2" lengthAdjust="spacingAndGlyphs">28.0</text>
<text x="69.89999999999999" y="341.3" font-size="11.9" text-anchor="start" fill="#000" textLength="24.2" lengthAdjust="spacingAndGlyphs">18.0</text>
<text x="99.3" y="341.3" font-size="11.9" text-anchor="start" fill="#000" textLength="24.2" lengthAdjust="spacingAndGlyphs">17.6</text>
<text x="102.6" y="250.9" font-size="11.9" text-anchor="start" fill="#000" textLength="24.2" lengthAdjust="spacingAndGlyphs">42.5</text>
<text x="125.1" y="267.7" font-size="11.9" text-anchor="start" fill="#000" textLength="24.2" lengthAdjust="spacingAndGlyphs">35.7</text>
<text x="113.1" y="319.5" font-size="11.9" text-anchor="start" fill="#000" textLength="24.2" lengthAdjust="spacingAndGlyphs">26.0</text>
<text x="128.29999999999998" y="343.5" font-size="11.9" text-anchor="start" fill="#000" textLength="24.2" lengthAdjust="spacingAndGlyphs">15.1</text>
<text x="152.0" y="282.6" font-size="11.9" text-anchor="start" fill="#000" textLength="24.2" lengthAdjust="spacingAndGlyphs">32.1</text>
<text x="181.1" y="289.1" font-size="11.9" text-anchor="start" fill="#000" textLength="24.2" lengthAdjust="spacingAndGlyphs">28.8</text>
<text x="209.9" y="302.7" font-size="11.9" text-anchor="start" fill="#000" textLength="24.2" lengthAdjust="spacingAndGlyphs">23.8</text>
<text x="159.9" y="341.3" font-size="11.9" text-anchor="start" fill="#000" textLength="24.2" lengthAdjust="spacingAndGlyphs">18.2</text>
<text x="194.79999999999998" y="334.3" font-size="11.9" text-anchor="start" fill="#000" textLength="24.2" lengthAdjust="spacingAndGlyphs">21.4</text>
<text x="240.5" y="325.6" font-size="11.9" text-anchor="start" fill="#000" textLength="24.2" lengthAdjust="spacingAndGlyphs">23.6</text>
<text x="256.20000000000005" y="286.3" font-size="11.9" text-anchor="start" fill="#000" textLength="24.2" lengthAdjust="spacingAndGlyphs">28.4</text>
<text x="322.40000000000003" y="292.8" font-size="11.9" text-anchor="start" fill="#000" textLength="24.2" lengthAdjust="spacingAndGlyphs">25.9</text>
<text x="356.70000000000005" y="269.9" font-size="11.9" text-anchor="start" fill="#000" textLength="24.2" lengthAdjust="spacingAndGlyphs">36.9</text>
<text x="387.90000000000003" y="276.5" font-size="11.9" text-anchor="start" fill="#000" textLength="24.2" lengthAdjust="spacingAndGlyphs">32.4</text>
<text x="380.70000000000005" y="312.5" font-size="11.9" text-anchor="start" fill="#000" textLength="24.2" lengthAdjust="spacingAndGlyphs">29.1</text>
<text x="346.20000000000005" y="321.6" font-size="11.9" text-anchor="start" fill="#000" textLength="24.2" lengthAdjust="spacingAndGlyphs">26.3</text>
<text x="411.8" y="301.6" font-size="11.9" text-anchor="start" fill="#000" textLength="24.2" lengthAdjust="spacingAndGlyphs">30.6</text>
<text x="417.20000000000005" y="250.3" font-size="11.9" text-anchor="start" fill="#000" textLength="24.2" lengthAdjust="spacingAndGlyphs">44.8</text>
<text x="477.3" y="258.4" font-size="11.9" text-anchor="start" fill="#000" textLength="24.2" lengthAdjust="spacingAndGlyphs">39.4</text>
<text x="451.5" y="297.2" font-size="11.9" text-anchor="start" fill="#000" textLength="24.2" lengthAdjust="spacingAndGlyphs">36.1</text>
<text x="549.4" y="287.4" font-size="11.9" text-anchor="start" fill="#000" textLength="24.2" lengthAdjust="spacingAndGlyphs">28.0</text>
<text x="528.0" y="319" font-size="11.9" text-anchor="start" fill="#000" textLength="24.2" lengthAdjust="spacingAndGlyphs">27.1</text>
<text x="633.0" y="278.3" font-size="11.9" text-anchor="start" fill="#000" textLength="24.2" lengthAdjust="spacingAndGlyphs">31.6</text>
<text x="699.3000000000001" y="280" font-size="11.9" text-anchor="start" fill="#000" textLength="24.2" lengthAdjust="spacingAndGlyphs">30.8</text>
<text x="766.1" y="287.6" font-size="11.9" text-anchor="start" fill="#000" textLength="24.2" lengthAdjust="spacingAndGlyphs">27.8</text>
<polyline fill="none" stroke="#000" stroke-width="5.8" stroke-linejoin="round" points="68.7,368.5 73.8,448.7 79.5,447.4 87.2,437.9 96.2,439.7 108,417.2 114.2,449.5 124.5,439.7 142.9,460.8 150.1,405.9 154,410.8 156.4,440.7 163.4,467.8 169.6,452.5 171.8,462 174.2,469.8 178.3,473.1 182.7,474.9 188,474.9 193.5,474.9 200.7,474.7 222.9,471.9 239.4,474.5 333.7,475.9 381.1,410.3 389.6,458.3 399.3,440.8 402,469.7 428.1,469.3 460.5,472 488.5,474.8 537.9,475.5 559.9,473.2 616.2,475.4 643.3,475.6 710,475.6 743.1,474.2 776.4,476"/>
<circle cx="68.7" cy="368.5" r="5.2" fill="#000"/>
<circle cx="73.8" cy="448.7" r="5.2" fill="#000"/>
<circle cx="79.5" cy="447.4" r="5.2" fill="#000"/>
<circle cx="87.2" cy="437.9" r="5.2" fill="#000"/>
<circle cx="96.2" cy="439.7" r="5.2" fill="#000"/>
<circle cx="108" cy="417.2" r="5.2" fill="#000"/>
<circle cx="114.2" cy="449.5" r="5.2" fill="#000"/>
<circle cx="124.5" cy="439.7" r="5.2" fill="#000"/>
<circle cx="142.9" cy="460.8" r="5.2" fill="#000"/>
<circle cx="150.1" cy="405.9" r="5.2" fill="#000"/>
<circle cx="154" cy="410.8" r="5.2" fill="#000"/>
<circle cx="156.4" cy="440.7" r="5.2" fill="#000"/>
<circle cx="163.4" cy="467.8" r="5.2" fill="#000"/>
<circle cx="169.6" cy="452.5" r="5.2" fill="#000"/>
<circle cx="171.8" cy="462" r="5.2" fill="#000"/>
<circle cx="174.2" cy="469.8" r="5.2" fill="#000"/>
<circle cx="178.3" cy="473.1" r="5.2" fill="#000"/>
<circle cx="182.7" cy="474.9" r="5.2" fill="#000"/>
<circle cx="188" cy="474.9" r="5.2" fill="#000"/>
<circle cx="193.5" cy="474.9" r="5.2" fill="#000"/>
<circle cx="200.7" cy="474.7" r="5.2" fill="#000"/>
<circle cx="222.9" cy="471.9" r="5.2" fill="#000"/>
<circle cx="239.4" cy="474.5" r="5.2" fill="#000"/>
<circle cx="333.7" cy="475.9" r="5.2" fill="#000"/>
<circle cx="381.1" cy="410.3" r="5.2" fill="#000"/>
<circle cx="389.6" cy="458.3" r="5.2" fill="#000"/>
<circle cx="399.3" cy="440.8" r="5.2" fill="#000"/>
<circle cx="402" cy="469.7" r="5.2" fill="#000"/>
<circle cx="428.1" cy="469.3" r="5.2" fill="#000"/>
<circle cx="460.5" cy="472" r="5.2" fill="#000"/>
<circle cx="488.5" cy="474.8" r="5.2" fill="#000"/>
<circle cx="537.9" cy="475.5" r="5.2" fill="#000"/>
<circle cx="559.9" cy="473.2" r="5.2" fill="#000"/>
<circle cx="616.2" cy="475.4" r="5.2" fill="#000"/>
<circle cx="643.3" cy="475.6" r="5.2" fill="#000"/>
<circle cx="710" cy="475.6" r="5.2" fill="#000"/>
<circle cx="743.1" cy="474.2" r="5.2" fill="#000"/>
<circle cx="776.4" cy="476" r="5.2" fill="#000"/>
<text x="76.5" y="374.9" font-size="11.9" text-anchor="start" fill="#000" textLength="24.2" lengthAdjust="spacingAndGlyphs">27.6</text>
<text x="95.39999999999999" y="408.5" font-size="11.9" text-anchor="start" fill="#000" textLength="24.2" lengthAdjust="spacingAndGlyphs">15.0</text>
<text x="78.6" y="426.9" font-size="11.9" text-anchor="start" fill="#000" textLength="17.5" lengthAdjust="spacingAndGlyphs">9.7</text>
<text x="88.1" y="455.6" font-size="11.9" text-anchor="start" fill="#000" textLength="17.5" lengthAdjust="spacingAndGlyphs">9.3</text>
<text x="72.19999999999999" y="468.7" font-size="11.9" text-anchor="start" fill="#000" textLength="17.5" lengthAdjust="spacingAndGlyphs">7.2</text>
<text x="107.39999999999999" y="466.7" font-size="11.9" text-anchor="start" fill="#000" textLength="17.5" lengthAdjust="spacingAndGlyphs">6.7</text>
<text x="133.6" y="394.9" font-size="11.9" text-anchor="start" fill="#000" textLength="24.2" lengthAdjust="spacingAndGlyphs">17.8</text>
<text x="161.79999999999998" y="412.8" font-size="11.9" text-anchor="start" fill="#000" textLength="24.2" lengthAdjust="spacingAndGlyphs">16.6</text>
<text x="118.19999999999999" y="429" font-size="11.9" text-anchor="start" fill="#000" textLength="17.5" lengthAdjust="spacingAndGlyphs">9.1</text>
<text x="164.2" y="434.1" font-size="11.9" text-anchor="start" fill="#000" textLength="17.5" lengthAdjust="spacingAndGlyphs">9.0</text>
<text x="134.9" y="474.9" font-size="11.9" text-anchor="start" fill="#000" textLength="17.5" lengthAdjust="spacingAndGlyphs">3.9</text>
<text x="180.0" y="466.4" font-size="11.9" text-anchor="start" fill="#000" textLength="17.5" lengthAdjust="spacingAndGlyphs">0.7</text>
<text x="215.4" y="465.1" font-size="11.9" text-anchor="start" fill="#000" textLength="17.5" lengthAdjust="spacingAndGlyphs">1.0</text>
<text x="243.79999999999998" y="466.4" font-size="11.9" text-anchor="start" fill="#000" textLength="17.5" lengthAdjust="spacingAndGlyphs">0.4</text>
<text x="311.6" y="468.2" font-size="11.9" text-anchor="start" fill="#000" textLength="17.5" lengthAdjust="spacingAndGlyphs">0.0</text>
<text x="362.90000000000003" y="399.1" font-size="11.9" text-anchor="start" fill="#000" textLength="24.2" lengthAdjust="spacingAndGlyphs">16.7</text>
<text x="390.70000000000005" y="429.5" font-size="11.9" text-anchor="start" fill="#000" textLength="17.5" lengthAdjust="spacingAndGlyphs">8.9</text>
<text x="405.40000000000003" y="460.6" font-size="11.9" text-anchor="start" fill="#000" textLength="17.5" lengthAdjust="spacingAndGlyphs">1.7</text>
<text x="371.8" y="475" font-size="11.9" text-anchor="start" fill="#000" textLength="17.5" lengthAdjust="spacingAndGlyphs">4.5</text>
<text x="451.0" y="464.6" font-size="11.9" text-anchor="start" fill="#000" textLength="17.5" lengthAdjust="spacingAndGlyphs">1.0</text>
<text x="480.6" y="464.6" font-size="11.9" text-anchor="start" fill="#000" textLength="17.5" lengthAdjust="spacingAndGlyphs">0.3</text>
<text x="522.7" y="466.9" font-size="11.9" text-anchor="start" fill="#000" textLength="17.5" lengthAdjust="spacingAndGlyphs">0.1</text>
<text x="555.7" y="464.6" font-size="11.9" text-anchor="start" fill="#000" textLength="17.5" lengthAdjust="spacingAndGlyphs">0.6</text>
<text x="607.4" y="466" font-size="11.9" text-anchor="start" fill="#000" textLength="17.5" lengthAdjust="spacingAndGlyphs">0.1</text>
<text x="634.0" y="467.8" font-size="11.9" text-anchor="start" fill="#000" textLength="17.5" lengthAdjust="spacingAndGlyphs">0.0</text>
<text x="701.5" y="467.8" font-size="11.9" text-anchor="start" fill="#000" textLength="17.5" lengthAdjust="spacingAndGlyphs">0.0</text>
<text x="734.5" y="467.1" font-size="11.9" text-anchor="start" fill="#000" textLength="17.5" lengthAdjust="spacingAndGlyphs">0.4</text>
<text x="767.2" y="469.6" font-size="11.9" text-anchor="start" fill="#000" textLength="17.5" lengthAdjust="spacingAndGlyphs">0.0</text>
</svg>
</body></html>
